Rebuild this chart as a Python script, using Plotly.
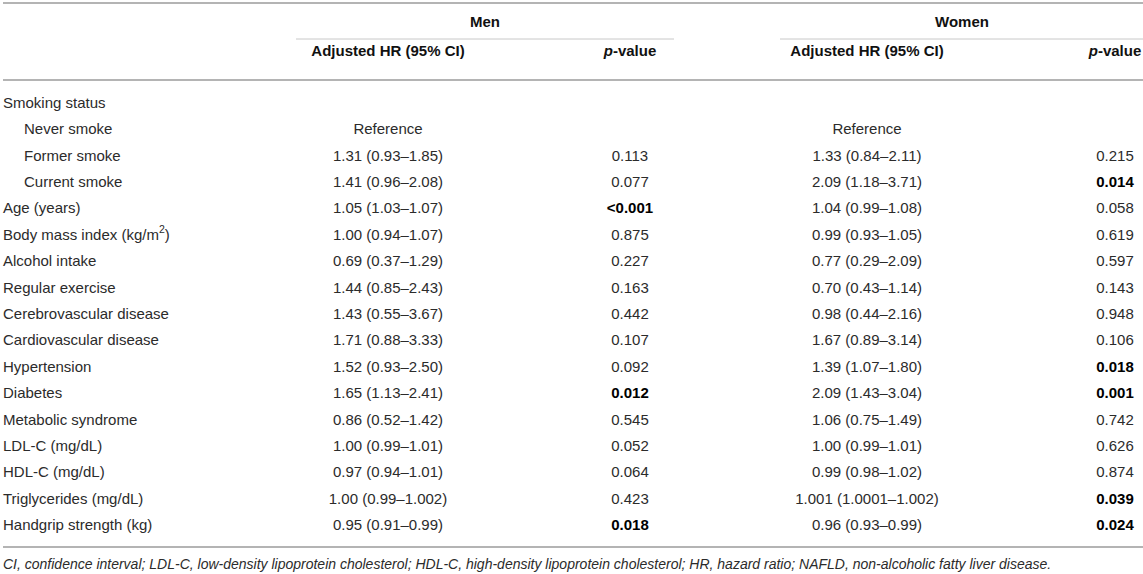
import plotly.graph_objects as go

################## TABLE DATA ##################

row_labels = [
    "Smoking status", "Never smoke", "Former smoke", "Current smoke",
    "Age (years)", "Body mass index (kg/m<sup>2</sup>)", "Alcohol intake",
    "Regular exercise", "Cerebrovascular disease", "Cardiovascular disease",
    "Hypertension", "Diabetes", "Metabolic syndrome", "LDL-C (mg/dL)",
    "HDL-C (mg/dL)", "Triglycerides (mg/dL)", "Handgrip strength (kg)",
]
row_indent = [0, 1, 1, 1, 0, 0, 0, 0, 0, 0, 0, 0, 0, 0, 0, 0, 0]

men_hr = [
    "", "Reference", "1.31 (0.93–1.85)", "1.41 (0.96–2.08)", "1.05 (1.03–1.07)",
    "1.00 (0.94–1.07)", "0.69 (0.37–1.29)", "1.44 (0.85–2.43)", "1.43 (0.55–3.67)",
    "1.71 (0.88–3.33)", "1.52 (0.93–2.50)", "1.65 (1.13–2.41)", "0.86 (0.52–1.42)",
    "1.00 (0.99–1.01)", "0.97 (0.94–1.01)", "1.00 (0.99–1.002)", "0.95 (0.91–0.99)",
]
men_p = [
    "", "", "0.113", "0.077", "<0.001", "0.875", "0.227", "0.163", "0.442",
    "0.107", "0.092", "0.012", "0.545", "0.052", "0.064", "0.423", "0.018",
]
women_hr = [
    "", "Reference", "1.33 (0.84–2.11)", "2.09 (1.18–3.71)", "1.04 (0.99–1.08)",
    "0.99 (0.93–1.05)", "0.77 (0.29–2.09)", "0.70 (0.43–1.14)", "0.98 (0.44–2.16)",
    "1.67 (0.89–3.14)", "1.39 (1.07–1.80)", "2.09 (1.43–3.04)", "1.06 (0.75–1.49)",
    "1.00 (0.99–1.01)", "0.99 (0.98–1.02)", "1.001 (1.0001–1.002)", "0.96 (0.93–0.99)",
]
women_p = [
    "", "", "0.215", "0.014", "0.058", "0.619", "0.597", "0.143", "0.948",
    "0.106", "0.018", "0.001", "0.742", "0.626", "0.874", "0.039", "0.024",
]

group_titles = ["Men", "Women"]
sub_titles = ["Adjusted HR (95% CI)", "<i>p</i>-value"]
footnote = ("CI, confidence interval; LDL-C, low-density lipoprotein cholesterol; "
            "HDL-C, high-density lipoprotein cholesterol; HR, hazard ratio; "
            "NAFLD, non-alcoholic fatty liver disease.")

# Layout in pixel units
W, H = 1143, 574
ROW0, ROW_H = 104, 26.4
X_LABEL, X_INDENT = 0, 21
X_MEN_HR, X_MEN_P = 385, 627
X_WOM_HR, X_WOM_P = 864, 1112
FONT = "Liberation Sans, Arial, Helvetica, sans-serif"
TXT = "#2b2b2b"
RULE = "#b4b4b4"

row_y = [ROW0 + ROW_H * i for i in range(len(row_labels))]


def is_sig(p):
    return p != "" and float(p.lstrip("<")) < 0.05


def filled(vals):
    # keep only the non-empty cells, with their row positions
    return [(y, v) for y, v in zip(row_y, vals) if v != ""]


fig = go.Figure()

# Row labels
fig.add_scatter(
    x=[X_INDENT if ind else X_LABEL for ind in row_indent], y=row_y,
    text=row_labels, mode="text", textposition="middle right",
    textfont=dict(family=FONT, size=15, color=TXT),
)
# HR columns
for xc, vals in [(X_MEN_HR, men_hr), (X_WOM_HR, women_hr)]:
    cells = filled(vals)
    fig.add_scatter(
        x=[xc] * len(cells), y=[c[0] for c in cells], text=[c[1] for c in cells],
        mode="text", textposition="middle center",
        textfont=dict(family=FONT, size=15, color=TXT),
    )
# p-value columns (significant values in bold)
for xc, vals in [(X_MEN_P, men_p), (X_WOM_P, women_p)]:
    cells = filled(vals)
    fig.add_scatter(
        x=[xc] * len(cells), y=[c[0] for c in cells],
        text=[f"<b>{c[1]}</b>" if is_sig(c[1]) else c[1] for c in cells],
        mode="text", textposition="middle center",
        textfont=dict(family=FONT, size=15,
                      color=["#000000" if is_sig(c[1]) else TXT for c in cells]),
    )

# Group headers
fig.add_scatter(
    x=[482, 959], y=[23, 23], text=[f"<b>{t}</b>" for t in group_titles],
    mode="text", textposition="middle center",
    textfont=dict(family=FONT, size=15, color="#111111"),
)
# Sub headers
fig.add_scatter(
    x=[X_MEN_HR, X_MEN_P, X_WOM_HR, X_WOM_P], y=[52] * 4,
    text=[f"<b>{t}</b>" for t in sub_titles * 2],
    mode="text", textposition="middle center",
    textfont=dict(family=FONT, size=15, color="#111111"),
)
# Footnote
fig.add_scatter(
    x=[X_LABEL], y=[565], text=[f"<i>{footnote}</i>"], mode="text",
    textposition="middle right",
    textfont=dict(family=FONT, size=14, color=TXT),
)

# Horizontal rules
rules = [
    (0, W, 3, 2, RULE),
    (293, 671, 39, 1, "#c8c8c8"),
    (777, W, 39, 1, "#c8c8c8"),
    (0, W, 80, 2, RULE),
    (0, W, 547, 2, RULE),
]
for x0, x1, y, w, c in rules:
    fig.add_shape(type="line", x0=x0, x1=x1, y0=y, y1=y, xref="x", yref="y",
                  line=dict(color=c, width=w))

fig.update_layout(
    width=W, height=H,
    margin=dict(l=0, r=0, t=0, b=0),
    paper_bgcolor="white", plot_bgcolor="white",
    showlegend=False,
    xaxis=dict(range=[-3, W - 3], visible=False, fixedrange=True),
    yaxis=dict(range=[H, 0], visible=False, fixedrange=True),
)

fig.write_html("out.html", config={"displayModeBar": False},
               post_script="document.body.style.margin='0';")
